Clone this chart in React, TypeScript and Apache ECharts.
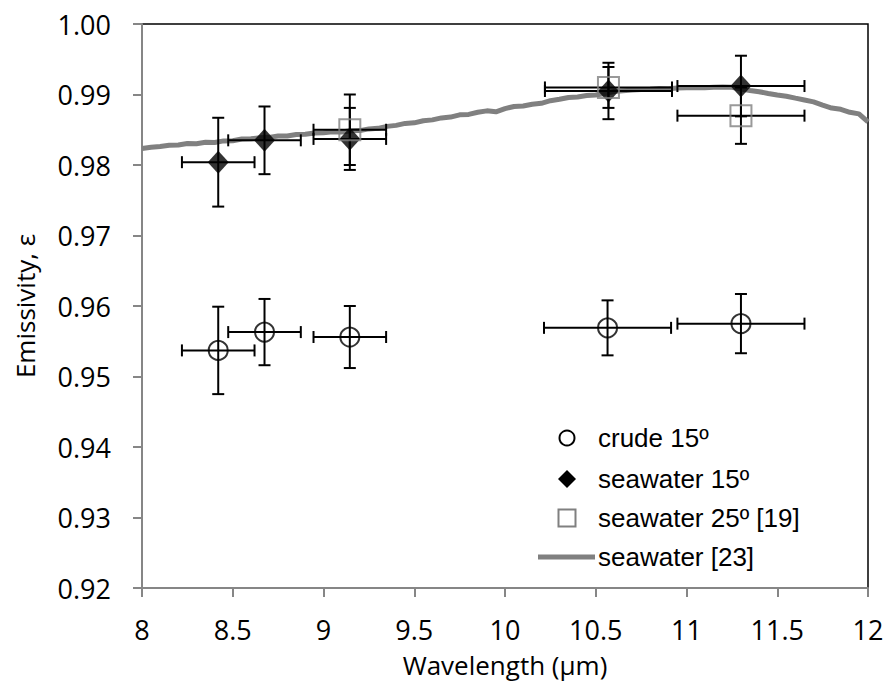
import { useEffect, useRef } from 'react';
import * as echarts from 'echarts';

// ---- data ----
const crudeX = [8.42, 8.675, 9.145, 10.565, 11.3];
const crudeY = [0.9537, 0.9563, 0.9556, 0.9569, 0.9575];
const crudeXErr = [0.2, 0.2, 0.2, 0.35, 0.35];
const crudeYErr = [0.0062, 0.0047, 0.0044, 0.0039, 0.0042];

const sea15X = [8.42, 8.675, 9.145, 10.57, 11.3];
const sea15Y = [0.9804, 0.9835, 0.9837, 0.9905, 0.9912];
const sea15XErr = [0.2, 0.2, 0.2, 0.35, 0.35];
const sea15YErr = [0.0063, 0.0048, 0.0044, 0.004, 0.0043];

const sea25X = [9.145, 10.57, 11.3];
const sea25Y = [0.985, 0.991, 0.987];
const sea25XErr = [0.2, 0.35, 0.35];
const sea25YErr = [0.005, 0.0029, 0.004];

const refX = [
  8.0, 8.05, 8.1, 8.15, 8.2, 8.25, 8.3, 8.35, 8.4, 8.45, 8.5, 8.55, 8.6, 8.65, 8.7, 8.75, 8.8, 8.85, 8.9, 8.95,
  9.0, 9.05, 9.1, 9.15, 9.2, 9.25, 9.3, 9.35, 9.4, 9.45, 9.5, 9.55, 9.6, 9.65, 9.7, 9.75, 9.8, 9.85, 9.9, 9.95,
  10.0, 10.05, 10.1, 10.15, 10.2, 10.25, 10.3, 10.35, 10.4, 10.45, 10.5, 10.55, 10.6, 10.65, 10.7, 10.75, 10.8, 10.85, 10.9, 10.95,
  11.0, 11.05, 11.1, 11.15, 11.2, 11.25, 11.3, 11.35, 11.4, 11.45, 11.5, 11.55, 11.6, 11.65, 11.7, 11.75, 11.8, 11.85, 11.9, 11.95, 12.0,
];
const refY = [
  0.98235, 0.98252, 0.98262, 0.9828, 0.98285, 0.98305, 0.98302, 0.98322, 0.9832, 0.98342, 0.98345, 0.98368, 0.98372, 0.98386, 0.98392, 0.9841, 0.98412, 0.98432, 0.98436, 0.98455,
  0.98458, 0.9847, 0.98468, 0.98486, 0.98488, 0.98512, 0.9852, 0.98548, 0.98562, 0.9859, 0.98598, 0.98628, 0.9864, 0.98668, 0.9868, 0.98712, 0.98718, 0.98748, 0.98768, 0.98755,
  0.988, 0.9883, 0.98838, 0.98862, 0.98875, 0.98912, 0.98932, 0.98958, 0.98965, 0.98985, 0.98992, 0.99015, 0.99042, 0.99052, 0.99062, 0.9907, 0.99075, 0.99085, 0.99082, 0.99092,
  0.99094, 0.99098, 0.99096, 0.99104, 0.99108, 0.99102, 0.99078, 0.99058, 0.9904, 0.99015, 0.98992, 0.98975, 0.98948, 0.98922, 0.98895, 0.9885, 0.98808, 0.9879, 0.98748, 0.98725, 0.98612,
];

const seriesNames = ['crude 15º', 'seawater 15º', 'seawater 25º [19]', 'seawater [23]'];

const yTicks = { min: 0.92, max: 1.0, interval: 0.01 };
const xTicks = { min: 8, max: 12, interval: 0.5 };

function pts(xs: number[], ys: number[]) {
  return xs.map((x, i) => [x, ys[i]]);
}
function errPts(xs: number[], ys: number[], xe: number[], ye: number[]) {
  return xs.map((x, i) => [x, ys[i], xe[i], ye[i]]);
}

const errorRender = (_params: any, api: any) => {
  const x = api.value(0);
  const y = api.value(1);
  const xe = api.value(2);
  const ye = api.value(3);
  const l = api.coord([x - xe, y]);
  const r = api.coord([x + xe, y]);
  const t = api.coord([x, y + ye]);
  const b = api.coord([x, y - ye]);
  const cap = 6;
  const style = { stroke: '#000', lineWidth: 2 };
  const ln = (x1: number, y1: number, x2: number, y2: number) => ({
    type: 'line',
    shape: { x1, y1, x2, y2 },
    style,
  });
  return {
    type: 'group',
    children: [
      ln(l[0], l[1], r[0], r[1]),
      ln(l[0], l[1] - cap, l[0], l[1] + cap),
      ln(r[0], r[1] - cap, r[0], r[1] + cap),
      ln(t[0], t[1], b[0], b[1]),
      ln(t[0] - cap, t[1], t[0] + cap, t[1]),
      ln(b[0] - cap, b[1], b[0] + cap, b[1]),
    ],
  };
};

const tickFont = 'Open Sans';
const legendFont = 'Liberation Sans';

// legend layout (manual, drawn with graphic)
const legIconX = 567;
const legTextX = 598;
const legRows = [438, 479, 518, 557];

export default function App() {
  const ref = useRef<HTMLDivElement>(null);
  useEffect(() => {
    if (!ref.current) return;
    const chart = echarts.init(ref.current, null, { renderer: 'svg' });
    const errSeries = (name: string, data: number[][]) => ({
      type: 'custom',
      name,
      renderItem: errorRender,
      data,
      encode: { x: 0, y: 1 },
      z: 3,
      silent: true,
    });
    const legText = (i: number) => ({
      type: 'text',
      x: legTextX,
      y: legRows[i],
      style: {
        text: seriesNames[i],
        fontFamily: legendFont,
        fontSize: 26,
        fill: '#000',
        verticalAlign: 'middle',
        align: 'left',
      },
    });
    const d = 9;
    chart.setOption({
      animation: false,
      backgroundColor: '#fff',
      grid: {
        left: 142,
        right: 21,
        top: 24,
        bottom: 103,
        show: true,
        borderColor: '#000',
        borderWidth: 1.5,
        outerBoundsMode: 'none',
      },
      graphic: [
        {
          type: 'circle',
          shape: { cx: legIconX, cy: legRows[0], r: 7.5 },
          style: { fill: 'none', stroke: '#000', lineWidth: 2 },
        },
        {
          type: 'polygon',
          shape: {
            points: [
              [legIconX, legRows[1] - d],
              [legIconX + d, legRows[1]],
              [legIconX, legRows[1] + d],
              [legIconX - d, legRows[1]],
            ],
          },
          style: { fill: '#000' },
        },
        {
          type: 'rect',
          shape: { x: legIconX - 8.5, y: legRows[2] - 8.5, width: 17, height: 17 },
          style: { fill: 'none', stroke: '#808080', lineWidth: 2 },
        },
        {
          type: 'line',
          shape: { x1: 538, y1: legRows[3], x2: 595, y2: legRows[3] },
          style: { stroke: '#808080', lineWidth: 5 },
        },
        legText(0),
        legText(1),
        legText(2),
        legText(3),
      ],
      xAxis: {
        type: 'value',
        min: xTicks.min,
        max: xTicks.max,
        interval: xTicks.interval,
        name: 'Wavelength (µm)',
        nameLocation: 'middle',
        nameGap: 64,
        nameTextStyle: { fontFamily: tickFont, fontSize: 26, color: '#000' },
        axisLine: { show: true, onZero: false, lineStyle: { color: '#868686', width: 2 } },
        axisTick: { show: true, length: 9, lineStyle: { color: '#868686', width: 2 } },
        axisLabel: { fontFamily: tickFont, fontSize: 27, color: '#000', margin: 28 },
        splitLine: { show: false },
      },
      yAxis: {
        type: 'value',
        min: yTicks.min,
        max: yTicks.max,
        interval: yTicks.interval,
        name: 'Emissivity, ε',
        nameLocation: 'middle',
        nameGap: 104,
        nameTextStyle: { fontFamily: tickFont, fontSize: 26, color: '#000' },
        axisLine: { show: true, onZero: false, lineStyle: { color: '#868686', width: 2 } },
        axisTick: { show: true, length: 9, lineStyle: { color: '#868686', width: 2 } },
        axisLabel: {
          fontFamily: tickFont,
          fontSize: 27,
          color: '#000',
          margin: 31,
          formatter: (v: number) => v.toFixed(2),
        },
        splitLine: { show: false },
      },
      series: [
        {
          type: 'line',
          name: seriesNames[3],
          data: pts(refX, refY),
          symbol: 'none',
          smooth: false,
          lineStyle: { color: '#808080', width: 5 },
          itemStyle: { color: '#808080' },
          z: 1,
        },
        errSeries('err crude', errPts(crudeX, crudeY, crudeXErr, crudeYErr)),
        errSeries('err sea15', errPts(sea15X, sea15Y, sea15XErr, sea15YErr)),
        errSeries('err sea25', errPts(sea25X, sea25Y, sea25XErr, sea25YErr)),
        {
          type: 'scatter',
          name: seriesNames[0],
          data: pts(crudeX, crudeY),
          symbol: 'circle',
          symbolSize: 19,
          itemStyle: { color: 'rgba(255,255,255,0)', borderColor: '#000', borderWidth: 2 },
          z: 4,
        },
        {
          type: 'scatter',
          name: seriesNames[1],
          data: pts(sea15X, sea15Y),
          symbol: 'diamond',
          symbolSize: [21, 23],
          itemStyle: { color: '#000' },
          z: 4,
        },
        {
          type: 'scatter',
          name: seriesNames[2],
          data: pts(sea25X, sea25Y),
          symbol: 'rect',
          symbolSize: 21,
          itemStyle: { color: 'rgba(255,255,255,0)', borderColor: '#808080', borderWidth: 2 },
          z: 4,
        },
      ],
    });
    return () => chart.dispose();
  }, []);
  return (
    <div
      ref={ref}
      style={{ position: 'absolute', left: 0, top: 0, width: 889, height: 691 }}
    />
  );
}
